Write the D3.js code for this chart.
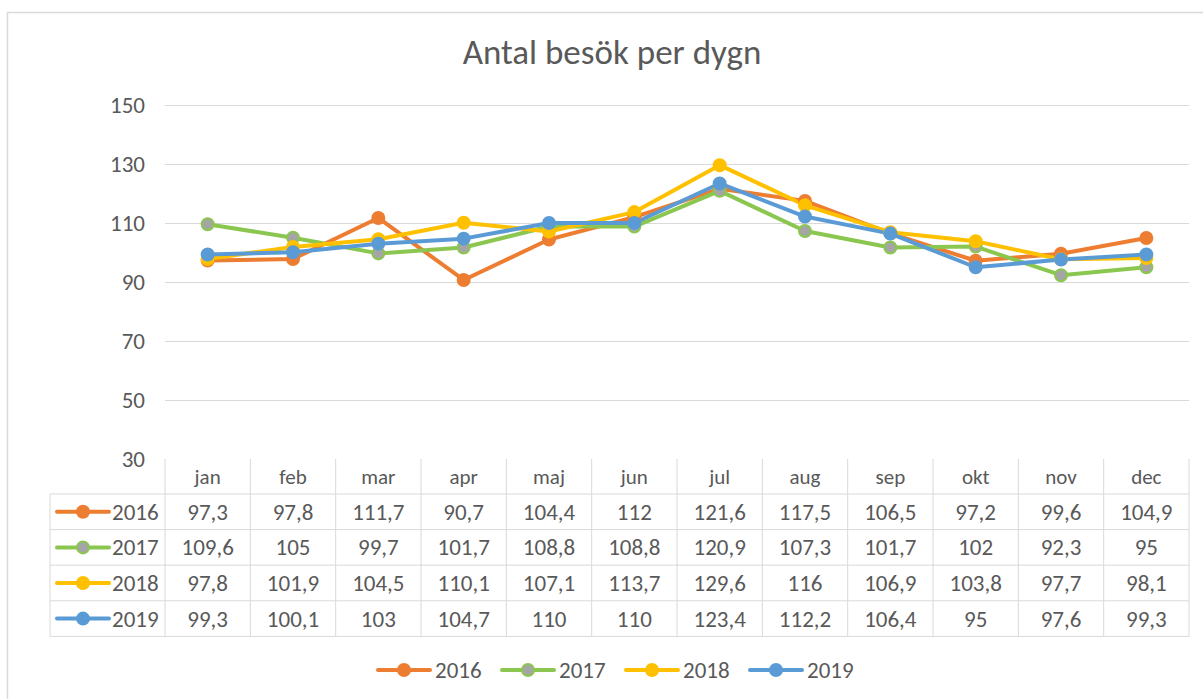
<!DOCTYPE html>
<html>
<head>
<meta charset="utf-8">
<script src="https://cdn.jsdelivr.net/npm/d3@7"></script>
<style>
body { margin:0; background:#fff; }
text { font-family: Carlito, Calibri, "Open Sans", sans-serif; fill:#595959; }
</style>
</head>
<body>
<div id="plot"></div>
<script>
// data
var months = ['jan','feb','mar','apr','maj','jun','jul','aug','sep','okt','nov','dec'];
var years = ['2016','2017','2018','2019'];
var v2016 = [97.3, 97.8, 111.7, 90.7, 104.4, 112, 121.6, 117.5, 106.5, 97.2, 99.6, 104.9];
var v2017 = [109.6, 105, 99.7, 101.7, 108.8, 108.8, 120.9, 107.3, 101.7, 102, 92.3, 95];
var v2018 = [97.8, 101.9, 104.5, 110.1, 107.1, 113.7, 129.6, 116, 106.9, 103.8, 97.7, 98.1];
var v2019 = [99.3, 100.1, 103, 104.7, 110, 110, 123.4, 112.2, 106.4, 95, 97.6, 99.3];
var yTicks = [30, 50, 70, 90, 110, 130, 150];

var series = [
    {name:years[0], values:v2016, color:'#ED7D31', fill:'#ED7D31'},
    {name:years[1], values:v2017, color:'#8BC750', fill:'#A5A5A5'},
    {name:years[2], values:v2018, color:'#FFC000', fill:'#FFC000'},
    {name:years[3], values:v2019, color:'#5B9BD5', fill:'#5B9BD5'}
];

var W = 1203, H = 699;
var svg = d3.select('#plot').append('svg')
    .attr('width', W).attr('height', H);

// chart border
svg.append('rect')
    .attr('x', 7.5).attr('y', 12.5)
    .attr('width', W + 10).attr('height', H + 10)
    .attr('fill', '#fff').attr('stroke', '#D9D9D9').attr('stroke-width', 1.5);

svg.append('text')
    .attr('x', 612).attr('y', 64)
    .attr('text-anchor', 'middle')
    .style('font-size', '35px')
    .text('Antal besök per dygn');

var pLeft = 165, pRight = 1189, pTop = 105, pBottom = 459;

var x = d3.scaleBand().domain(months).range([pLeft, pRight]);
var y = d3.scaleLinear().domain([30, 150]).range([pBottom, pTop]);

// gridlines
svg.append('g').selectAll('line')
    .data(yTicks.slice(1))
    .enter().append('line')
    .attr('x1', pLeft).attr('x2', pRight)
    .attr('y1', function(d){ return y(d) + 0.5; })
    .attr('y2', function(d){ return y(d) + 0.5; })
    .attr('stroke', '#D9D9D9').attr('stroke-width', 1);

// y axis labels
var yAxis = svg.append('g')
    .attr('transform', 'translate(' + (pLeft - 20) + ',0)')
    .call(d3.axisLeft(y).tickValues(yTicks).tickSize(0).tickPadding(0));
yAxis.select('.domain').remove();
yAxis.selectAll('text')
    .style('font-size', '23px')
    .style('font-family', 'Carlito, Calibri, "Open Sans", sans-serif')
    .attr('fill', '#595959');

// lines
var line = d3.line()
    .x(function(d, i){ return x(months[i]) + x.bandwidth() / 2; })
    .y(function(d){ return y(d); });

series.forEach(function(s){
    svg.append('path')
        .datum(s.values)
        .attr('d', line)
        .attr('fill', 'none')
        .attr('stroke', s.color)
        .attr('stroke-width', 4)
        .attr('stroke-linejoin', 'round');
});
series.forEach(function(s){
    svg.append('g').selectAll('circle')
        .data(s.values)
        .enter().append('circle')
        .attr('cx', function(d, i){ return x(months[i]) + x.bandwidth() / 2; })
        .attr('cy', function(d){ return y(d); })
        .attr('r', 6)
        .attr('fill', s.fill)
        .attr('stroke', s.color)
        .attr('stroke-width', 2);
});

// data table
var rowH = 35.6, headH = 35, legLeft = 50;
var tbl = svg.append('g');
var gridColor = '#D9D9D9';

var rowYs = d3.range(series.length + 1).map(function(i){ return pBottom + headH + i * rowH; });
tbl.selectAll('.hline')
    .data(rowYs)
    .enter().append('line')
    .attr('x1', legLeft)
    .attr('x2', pRight)
    .attr('y1', function(d){ return d; }).attr('y2', function(d){ return d; })
    .attr('stroke', gridColor);
var colXs = months.map(function(m){ return x(m); }).concat([pRight]);
tbl.selectAll('.vline')
    .data(colXs)
    .enter().append('line')
    .attr('x1', function(d){ return d; }).attr('x2', function(d){ return d; })
    .attr('y1', pBottom).attr('y2', rowYs[rowYs.length - 1])
    .attr('stroke', gridColor);
tbl.append('line')
    .attr('x1', legLeft).attr('x2', legLeft)
    .attr('y1', rowYs[0]).attr('y2', rowYs[rowYs.length - 1])
    .attr('stroke', gridColor);

// month headers
tbl.selectAll('.mh')
    .data(months)
    .enter().append('text')
    .attr('x', function(d){ return x(d) + x.bandwidth() / 2; })
    .attr('y', pBottom + headH / 2 + 7)
    .attr('text-anchor', 'middle')
    .style('font-size', '21px')
    .text(function(d){ return d; });

var fmt = function(v){ return String(v).replace('.', ','); };

series.forEach(function(s, r){
    var cy = rowYs[r] + rowH / 2;
    tbl.selectAll('.c' + r)
        .data(s.values)
        .enter().append('text')
        .attr('x', function(d, i){ return x(months[i]) + x.bandwidth() / 2; })
        .attr('y', cy + 8)
        .attr('text-anchor', 'middle')
        .style('font-size', '23px')
        .text(fmt);
    legendKey(tbl, 57, cy, s);
    tbl.append('text')
        .attr('x', 112).attr('y', cy + 8)
        .style('font-size', '23px')
        .text(s.name);
});

// bottom legend
var legX = [378, 502, 626, 750];
series.forEach(function(s, i){
    legendKey(svg, legX[i], 670, s);
    svg.append('text')
        .attr('x', legX[i] + 57).attr('y', 678)
        .style('font-size', '23px')
        .text(s.name);
});

function legendKey(g, x0, cy, s){
    g.append('line')
        .attr('x1', x0).attr('x2', x0 + 52)
        .attr('y1', cy).attr('y2', cy)
        .attr('stroke', s.color).attr('stroke-width', 4)
        .attr('stroke-linecap', 'round');
    g.append('circle')
        .attr('cx', x0 + 26).attr('cy', cy).attr('r', 6)
        .attr('fill', s.fill).attr('stroke', s.color).attr('stroke-width', 2);
}
</script>
</body>
</html>
